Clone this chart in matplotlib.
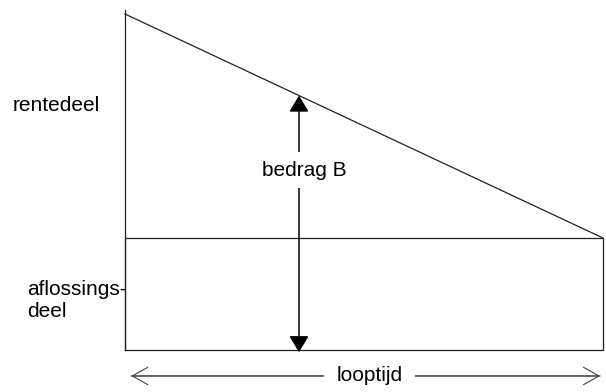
import matplotlib.pyplot as plt

plt.rcParams['font.family'] = ['Liberation Sans', 'DejaVu Sans']

# lineaire lening: constante aflossing, dalende rente
looptijd = 10.0          # lengte van de looptijd
aflossing = 1.0          # aflossingsdeel per periode (constant)
rente_begin = 2.0        # rentedeel aan het begin, loopt lineair af naar 0
pos_bedrag = 3.64        # plek van de pijl "bedrag B"

labels = {
    'rente': 'rentedeel',
    'aflossing': 'aflossings-\ndeel',
    'bedrag': 'bedrag B',
    'tijd': 'looptijd',
}

fig = plt.figure(figsize=(6.06, 3.92), dpi=100)
ax = fig.add_axes([0, 0, 1, 1])
ax.set_xlim(-2.615, 10.063)
ax.set_ylim(-0.375, 3.125)
ax.axis('off')

lc = '#222222'
lw = 0.9
fs = 15
top = aflossing + rente_begin

# rechthoek aflossingsdeel
ax.plot([0, looptijd, looptijd, 0, 0], [0, 0, aflossing, aflossing, 0], color=lc, lw=lw)
# linker as en schuine lijn van het rentedeel
ax.plot([0, 0], [0, top + 0.04], color=lc, lw=lw)
ax.plot([0, looptijd], [top, aflossing], color=lc, lw=lw)

# pijl bedrag B
y_top = top - rente_begin * pos_bedrag / looptijd
ax.annotate('', xy=(pos_bedrag, y_top), xytext=(pos_bedrag, -0.02),
            arrowprops=dict(arrowstyle='<|-|>,head_length=0.5,head_width=0.3', color='black',
                            lw=1.1, mutation_scale=20, shrinkA=0, shrinkB=0))
ax.text(pos_bedrag + 0.12, 1.607, labels['bedrag'], ha='center', va='center', fontsize=fs,
        bbox=dict(facecolor='white', edgecolor='none', pad=6))

# pijl looptijd
for a, b in [(0.13, 9.94), (9.94, 0.13)]:
    ax.annotate('', xy=(a, -0.232), xytext=(b, -0.232),
                arrowprops=dict(arrowstyle='->,head_length=0.8,head_width=0.45', color='#444444',
                                lw=0.8, mutation_scale=14, shrinkA=0, shrinkB=0))
ax.text(5.12, -0.232, labels['tijd'], ha='center', va='center', fontsize=fs,
        bbox=dict(facecolor='white', edgecolor='none', pad=9))

# labels links
ax.text(-2.343, 2.18, labels['rente'], ha='left', va='center', fontsize=fs)
ax.text(-2.05, 0.442, labels['aflossing'], ha='left', va='center', fontsize=fs,
        linespacing=1.2)

fig.savefig('out.png', dpi=100)
